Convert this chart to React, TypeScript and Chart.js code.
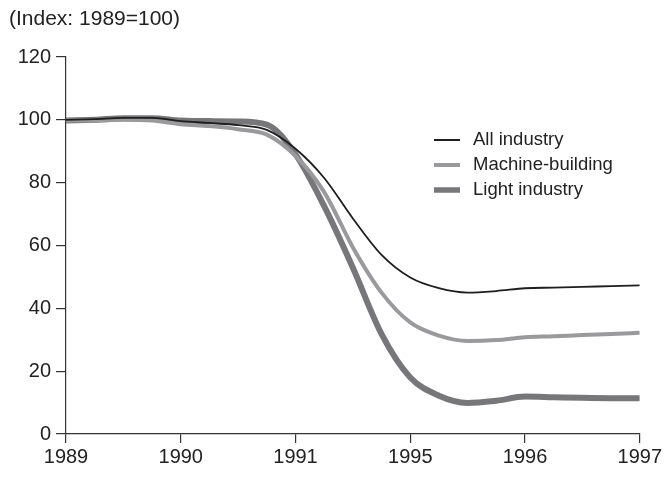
import React, { useEffect, useRef } from "react";
import { Chart, registerables } from "chart.js";

Chart.register(...registerables);

const categories = ["1989", "1990", "1991", "1995", "1996", "1997"];
const yTicks = [0, 20, 40, 60, 80, 100, 120];
const titleText = "(Index: 1989=100)";

// sample positions along the category axis (0 = 1989 ... 5 = 1997)
const positions = [0, 0.25, 0.5, 0.75, 1, 1.25, 1.5, 1.75, 2, 2.25, 2.5, 2.75, 3, 3.25, 3.5, 3.75, 4, 4.25, 4.5, 4.75, 5];

const allIndustry = [100, 100.2, 100.6, 100.6, 99.6, 99, 98.3, 96.8, 90.8, 81.5, 68.6, 57, 49.8, 46.4, 45, 45.5, 46.4, 46.6, 46.8, 47.1, 47.3];
const machineBuilding = [99.8, 99.8, 100, 99.8, 98.6, 98, 97, 95.3, 88.5, 77, 59.4, 45, 35.5, 31.3, 29.6, 29.9, 30.8, 31.1, 31.5, 31.8, 32.2];
const lightIndustry = [99.8, 100, 100.5, 100.5, 99.8, 99.6, 99.5, 98.5, 89, 72.5, 52.9, 31.8, 18, 12.2, 9.9, 10.6, 11.9, 11.7, 11.5, 11.4, 11.4];

const seriesNames = ["All industry", "Machine-building", "Light industry"];
const seriesColors = ["#1e1e1e", "#9a9a9c", "#77777a"];
const seriesWidths = [1.8, 4, 6];
const legendWidths = [2, 4, 5.5];

const FONT = "'Liberation Sans', Arial, Helvetica, sans-serif";

const overlayPlugin = {
  id: "overlay",
  afterDraw(chart: any) {
    const ctx = chart.ctx;
    const area = chart.chartArea;
    ctx.save();
    ctx.fillStyle = "#222";
    ctx.font = `21px ${FONT}`;
    ctx.textBaseline = "middle";
    ctx.textAlign = "left";
    ctx.fillText(titleText, 9, 19);

    const lx = area.left + 368;
    const ly = area.top + 83;
    chart.data.datasets.forEach((ds: any, i: number) => {
      const y = ly + i * 25;
      ctx.strokeStyle = ds.borderColor;
      ctx.lineWidth = legendWidths[i];
      ctx.beginPath();
      ctx.moveTo(lx, y);
      ctx.lineTo(lx + 26, y);
      ctx.stroke();
      ctx.fillStyle = "#222";
      ctx.font = `18.5px ${FONT}`;
      ctx.fillText(ds.label, lx + 39, y);
    });
    ctx.restore();
  },
};

export default function App() {
  const ref = useRef<HTMLCanvasElement>(null);
  useEffect(() => {
    if (!ref.current) return;
    const seriesValues = [allIndustry, machineBuilding, lightIndustry];
    const chart = new Chart(ref.current, {
      type: "line",
      data: {
        datasets: seriesValues.map((vals, i) => ({
          label: seriesNames[i],
          data: positions.map((p, j) => ({ x: p, y: vals[j] })),
          borderColor: seriesColors[i],
          backgroundColor: seriesColors[i],
          borderWidth: seriesWidths[i],
          pointRadius: 0,
          cubicInterpolationMode: "monotone",
          fill: false,
        })),
      },
      options: {
        animation: false,
        responsive: false,
        layout: { padding: { top: 57, right: 24, left: 0, bottom: 0 } },
        plugins: {
          legend: { display: false },
          tooltip: { enabled: false },
          title: { display: false },
        },
        scales: {
          x: {
            type: "linear",
            min: 0,
            max: 5,
            afterBuildTicks: (scale: any) => {
              scale.ticks = categories.map((_, i) => ({ value: i }));
            },
            afterFit: (scale: any) => {
              scale.height = 54;
            },
            ticks: {
              callback: (v: any) => categories[Math.round(Number(v))] ?? "",
              color: "#222",
              font: { size: 20, family: FONT },
              padding: 2,
              maxRotation: 0,
              autoSkip: false,
            },
            grid: {
              display: true,
              drawOnChartArea: false,
              drawTicks: true,
              tickLength: 9,
              color: "#333",
              lineWidth: 1.2,
            },
            border: { display: true, color: "#333", width: 1.2 },
          },
          y: {
            type: "linear",
            min: 0,
            max: 120,
            afterBuildTicks: (scale: any) => {
              scale.ticks = yTicks.map((v) => ({ value: v }));
            },
            afterFit: (scale: any) => {
              scale.width = 66;
            },
            ticks: {
              color: "#222",
              font: { size: 20, family: FONT },
              padding: 5,
            },
            grid: {
              display: true,
              drawOnChartArea: false,
              drawTicks: true,
              tickLength: 10,
              color: "#333",
              lineWidth: 1.2,
            },
            border: { display: true, color: "#333", width: 1.2 },
          },
        },
      },
      plugins: [overlayPlugin],
    } as any);
    return () => chart.destroy();
  }, []);
  return (
    <div style={{ position: "absolute", left: 0, top: 0, width: 664, height: 488, background: "#fff" }}>
      <canvas ref={ref} width={664} height={488} style={{ display: "block" }} />
    </div>
  );
}
